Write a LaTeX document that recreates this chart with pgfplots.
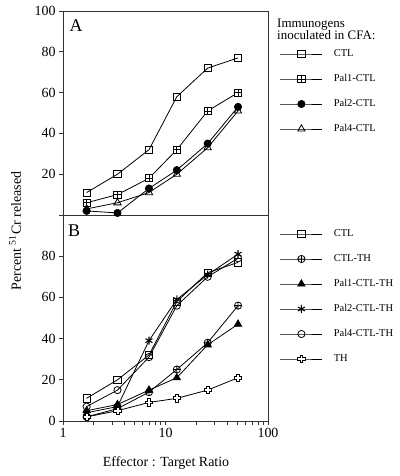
\documentclass[border=0pt]{standalone}
\usepackage{fontspec}
\setmainfont{Liberation Serif}
\usepackage{pgfplots}
\pgfplotsset{compat=1.18}
\usetikzlibrary{plotmarks}

\pgfdeclareplotmark{boxplus}{%
  \pgfpathrectangle{\pgfpoint{-\pgfplotmarksize}{-\pgfplotmarksize}}{\pgfpoint{2\pgfplotmarksize}{2\pgfplotmarksize}}%
  \pgfusepathqfillstroke
  \pgfpathmoveto{\pgfpoint{-\pgfplotmarksize}{0pt}}\pgfpathlineto{\pgfpoint{\pgfplotmarksize}{0pt}}%
  \pgfpathmoveto{\pgfpoint{0pt}{-\pgfplotmarksize}}\pgfpathlineto{\pgfpoint{0pt}{\pgfplotmarksize}}%
  \pgfusepathqstroke}
\pgfdeclareplotmark{hcross}{%
  \pgfpathmoveto{\pgfpoint{-0.4\pgfplotmarksize}{\pgfplotmarksize}}%
  \pgfpathlineto{\pgfpoint{0.4\pgfplotmarksize}{\pgfplotmarksize}}%
  \pgfpathlineto{\pgfpoint{0.4\pgfplotmarksize}{0.4\pgfplotmarksize}}%
  \pgfpathlineto{\pgfpoint{\pgfplotmarksize}{0.4\pgfplotmarksize}}%
  \pgfpathlineto{\pgfpoint{\pgfplotmarksize}{-0.4\pgfplotmarksize}}%
  \pgfpathlineto{\pgfpoint{0.4\pgfplotmarksize}{-0.4\pgfplotmarksize}}%
  \pgfpathlineto{\pgfpoint{0.4\pgfplotmarksize}{-\pgfplotmarksize}}%
  \pgfpathlineto{\pgfpoint{-0.4\pgfplotmarksize}{-\pgfplotmarksize}}%
  \pgfpathlineto{\pgfpoint{-0.4\pgfplotmarksize}{-0.4\pgfplotmarksize}}%
  \pgfpathlineto{\pgfpoint{-\pgfplotmarksize}{-0.4\pgfplotmarksize}}%
  \pgfpathlineto{\pgfpoint{-\pgfplotmarksize}{0.4\pgfplotmarksize}}%
  \pgfpathlineto{\pgfpoint{-0.4\pgfplotmarksize}{0.4\pgfplotmarksize}}%
  \pgfpathclose
  \pgfusepathqfillstroke}

\pgfplotsset{
  every axis plot/.append style={line width=0.8bp, black, mark size=3.6bp, mark options={solid, line width=0.8bp}},
  legend image code/.code={\draw[mark repeat=2, mark phase=2] plot coordinates {(0bp,0bp)(21bp,0bp)(42bp,0bp)};},
}

\begin{document}
\begin{tikzpicture}
\useasboundingbox (0bp,0bp) rectangle (400bp,476bp);

% Panel B
\begin{axis}[xmode=log, xmin=1, xmax=100, ymin=0, ymax=100,
    width=205bp, height=206bp, scale only axis,
    at={(63bp,55bp)}, anchor=south west,
    axis line style={line width=0.9bp, black!80},
    tick style={line width=0.8bp, black!80},
    tick align=outside,
    major tick length=4bp, minor tick length=4bp,
    ytick pos=left, xtick pos=bottom,
    ticklabel style={font=\fontsize{14}{14}\selectfont},
    /pgf/number format/assume math mode=true,
    clip=false,
    xtick={1,10,100}, xticklabels={1,10,100},
    minor xtick={2,3,4,5,6,7,8,9,20,30,40,50,60,70,80,90},
    ytick={0,20,40,60,80,100}, yticklabels={0,20,40,60,80,},
    legend style={draw=none, fill=none, font=\fontsize{10.5}{12}\selectfont,
      anchor=north west, at={(1,1)}, xshift=12bp, yshift=-14bp, inner sep=0pt, outer sep=0pt,
      row sep=15bp, column sep=11bp,
      nodes={inner sep=0pt, text height=7.5bp, text depth=2.5bp}},
    legend cell align=left]
\addplot[mark=square, mark options={fill=white}] coordinates {(1.7,11)(3.4,20)(6.9,32)(12.9,58)(25.8,72)(51,77)};
\addlegendentry{CTL}
\addplot[mark=oplus, mark options={fill=white}] coordinates {(1.7,2)(3.4,6)(6.9,14)(12.9,25)(25.8,38)(51,56)};
\addlegendentry{CTL-TH}
\addplot[mark=triangle*, mark size=4.2bp, mark options={fill=black}] coordinates {(1.7,5)(3.4,8)(6.9,15)(12.9,21)(25.8,37)(51,47)};
\addlegendentry{Pal1-CTL-TH}
\addplot[mark=asterisk, mark size=4bp, mark options={line width=1.1bp}] coordinates {(1.7,4)(3.4,7)(6.9,39)(12.9,59)(25.8,71)(51,81)};
\addlegendentry{Pal2-CTL-TH}
\addplot[mark=o, mark options={fill=white}] coordinates {(1.7,7)(3.4,15)(6.9,31)(12.9,56)(25.8,70)(51,79)};
\addlegendentry{Pal4-CTL-TH}
\addplot[mark=hcross, mark options={fill=white}] coordinates {(1.7,2)(3.4,5)(6.9,9)(12.9,11)(25.8,15)(51,21)};
\addlegendentry{TH}
\end{axis}

% Panel A
\begin{axis}[xmode=log, xmin=1, xmax=100, ymin=0, ymax=100,
    width=205bp, height=204bp, scale only axis,
    at={(63bp,261bp)}, anchor=south west,
    axis line style={line width=0.9bp, black!80},
    tick style={line width=0.8bp, black!80},
    tick align=outside,
    major tick length=4bp, minor tick length=4bp,
    ytick pos=left,
    ticklabel style={font=\fontsize{14}{14}\selectfont},
    /pgf/number format/assume math mode=true,
    clip=false,
    xtick=\empty,
    ytick={0,20,40,60,80,100}, yticklabels={,20,40,60,80,100},
    legend style={draw=none, fill=none, font=\fontsize{10.5}{12}\selectfont,
      anchor=north west, at={(1,1)}, xshift=12bp, yshift=-38bp, inner sep=0pt, outer sep=0pt,
      row sep=15bp, column sep=11bp,
      nodes={inner sep=0pt, text height=7.5bp, text depth=2.5bp}},
    legend cell align=left]
\addplot[mark=square, mark options={fill=white}] coordinates {(1.7,11)(3.4,20)(6.9,32)(12.9,58)(25.8,72)(51,77)};
\addlegendentry{CTL}
\addplot[mark=boxplus, mark options={fill=white}] coordinates {(1.7,6)(3.4,10)(6.9,18)(12.9,32)(25.8,51)(51,60)};
\addlegendentry{Pal1-CTL}
\addplot[mark=*, mark options={fill=black}] coordinates {(1.7,2)(3.4,1)(6.9,13)(12.9,22)(25.8,35)(51,53)};
\addlegendentry{Pal2-CTL}
\addplot[mark=triangle, mark size=4.2bp, mark options={fill=white}] coordinates {(1.7,3)(3.4,6)(6.9,11)(12.9,20)(25.8,33)(51,51)};
\addlegendentry{Pal4-CTL}
\end{axis}

\node[anchor=base west, inner sep=0pt, font=\fontsize{13}{13}\selectfont] at (277bp,448bp) {Immunogens};
\node[anchor=base west, inner sep=0pt, font=\fontsize{13}{13}\selectfont] at (277bp,436bp) {inoculated in CFA:};
\node[font=\fontsize{18}{18}\selectfont] at (76bp,450bp) {A};
\node[font=\fontsize{18}{18}\selectfont] at (74bp,245bp) {B};
\node[rotate=90, font=\fontsize{14}{14}\selectfont] at (15bp,245bp) {Percent \textsuperscript{51}Cr released};
\node[font=\fontsize{14}{14}\selectfont] at (166bp,13bp) {Effector : Target Ratio};
\end{tikzpicture}
\end{document}
